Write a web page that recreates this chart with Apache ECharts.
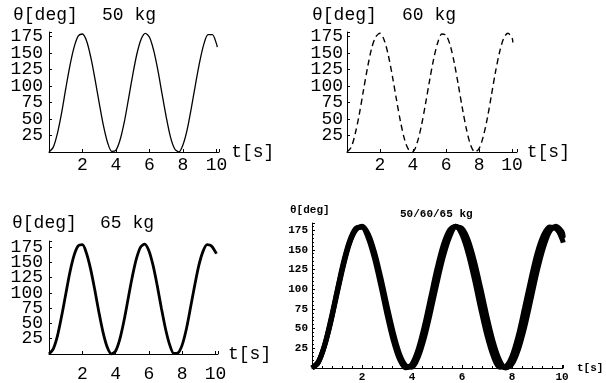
<!DOCTYPE html>
<html>
<head>
<meta charset="utf-8">
<script src="https://cdn.jsdelivr.net/npm/echarts@6/dist/echarts.min.js"></script>
<style>
  html, body { margin: 0; padding: 0; background: #fff; }
  #chart { width: 606px; height: 383px; }
</style>
</head>
<body>
<div id="chart"></div>
<script>
// values: t in s, theta in degrees
const tSec = [0, 0.25, 0.5, 0.75, 1, 1.25, 1.5, 1.75, 2, 2.25, 2.5, 2.75, 3, 3.25, 3.5, 3.75, 4, 4.25, 4.5, 4.75,
  5, 5.25, 5.5, 5.75, 6, 6.25, 6.5, 6.75, 7, 7.25, 7.5, 7.75, 8, 8.25, 8.5, 8.75, 9, 9.25, 9.5, 9.75, 10, 10.05];
const theta50 = [0, 7, 28, 59, 96, 131, 159, 176, 179, 168, 143, 110, 74, 40, 14, 1, 3, 19, 46, 81,
  117, 149, 171, 180, 174, 154, 124, 88, 53, 23, 5, 0, 11, 34, 67, 103, 137, 164, 178, 178, 164, 159];
const theta60 = [0, 7, 28, 58, 94, 129, 158, 175, 180, 170, 147, 115, 79, 45, 18, 3, 1, 14, 39, 72,
  108, 141, 166, 179, 177, 162, 135, 101, 65, 33, 10, 0, 5, 23, 51, 86, 122, 152, 173, 180, 173, 166];
const theta65 = [0, 8, 29, 61, 97, 133, 161, 177, 179, 165, 139, 105, 68, 35, 11, 0, 5, 24, 54, 90,
  126, 156, 175, 180, 169, 145, 112, 75, 41, 15, 1, 2, 15, 41, 76, 112, 145, 168, 179, 177, 167, 164];

const titles = ['50 kg', '60 kg', '65 kg', '50/60/65 kg'];
const yName = 'θ[deg]';
const xName = 't[s]';

const zip = vs => tSec.map((t, i) => [t, vs[i]]);
const d50 = zip(theta50);
const d60 = zip(theta60);
const d65 = zip(theta65);

const FONT = 'Liberation Mono';
const INK = '#000';

const chart = echarts.init(document.getElementById('chart'));

// panel geometry: big = 18px text, small = the combined plot
const panels = [
  { left: 49, top: 32, width: 170, height: 120, xMax: 10.15, yMax: 182, fs: 18, yMargin: 6, xMargin: 4, gap: 11 },
  { left: 347, top: 32, width: 170, height: 120, xMax: 10.3, yMax: 182, fs: 18, yMargin: 4, xMargin: 4, gap: 9 },
  { left: 49, top: 241, width: 169, height: 119, xMax: 10.15, yMax: 185, fs: 18, yMargin: 6, xMargin: 11, gap: 10 },
  { left: 312, top: 223, width: 251, height: 147, xMax: 10.04, yMax: 184, fs: 11, yMargin: 4, xMargin: 4, gap: 14 }
];

const xAxis = panels.map((p, i) => ({
  gridIndex: i, type: 'value', min: 0, max: p.xMax, interval: 2,
  name: xName, nameLocation: 'end', nameGap: p.gap,
  nameTextStyle: { fontFamily: FONT, fontSize: p.fs, color: INK, fontWeight: i === 3 ? 'bold' : 'normal' },
  axisLine: { lineStyle: { color: INK, width: 1 } },
  axisTick: { inside: true, length: 3, lineStyle: { color: INK } },
  minorTick: { show: i === 3, splitNumber: 5, length: 2, lineStyle: { color: INK } },
  splitLine: { show: false },
  axisLabel: {
    margin: p.xMargin, fontFamily: FONT, fontSize: p.fs, color: INK, fontWeight: i === 3 ? 'bold' : 'normal',
    formatter: v => (v > 0 && v % 2 === 0) ? String(v) : ''
  }
}));

const yAxis = panels.map((p, i) => ({
  gridIndex: i, type: 'value', min: 0, max: p.yMax, interval: 25,
  axisLine: { show: true, lineStyle: { color: INK, width: 1 } },
  axisTick: { show: true, inside: true, length: 3, lineStyle: { color: INK } },
  minorTick: { show: i === 3, splitNumber: 5, length: 2, lineStyle: { color: INK } },
  splitLine: { show: false },
  axisLabel: {
    margin: p.yMargin, fontFamily: FONT, fontSize: p.fs, color: INK, fontWeight: i === 3 ? 'bold' : 'normal',
    formatter: v => (v > 0 && v % 25 === 0) ? String(v) : ''
  }
}));

const grid = panels.map(p => ({ left: p.left, top: p.top, width: p.width, height: p.height, containLabel: false }));

const bigTitle = { fontFamily: FONT, fontSize: 18, fontWeight: 'normal', color: INK };
const smallTitle = { fontFamily: FONT, fontSize: 11, fontWeight: 'bold', color: INK };
const title = [
  { text: yName, left: 13, top: 6, padding: 0, textStyle: bigTitle },
  { text: titles[0], left: 102, top: 6, padding: 0, textStyle: bigTitle },
  { text: yName, left: 312, top: 6, padding: 0, textStyle: bigTitle },
  { text: titles[1], left: 402, top: 6, padding: 0, textStyle: bigTitle },
  { text: yName, left: 12, top: 214, padding: 0, textStyle: bigTitle },
  { text: titles[2], left: 100, top: 214, padding: 0, textStyle: bigTitle },
  { text: yName, left: 290, top: 205, padding: 0, textStyle: smallTitle },
  { text: titles[3], left: 400, top: 209, padding: 0, textStyle: smallTitle }
];

const line = (data, idx, width, type) => ({
  type: 'line', xAxisIndex: idx, yAxisIndex: idx, data,
  symbol: 'none', smooth: 0.3, animation: false,
  lineStyle: { color: INK, width, type: type || 'solid' }
});

chart.setOption({
  backgroundColor: '#fff',
  animation: false,
  title, grid, xAxis, yAxis,
  series: [
    line(d50, 0, 1.3),
    line(d60, 1, 1.4, [6, 4]),
    line(d65, 2, 2.8),
    line(d50, 3, 5),
    line(d60, 3, 5),
    line(d65, 3, 5)
  ]
});
</script>
</body>
</html>
